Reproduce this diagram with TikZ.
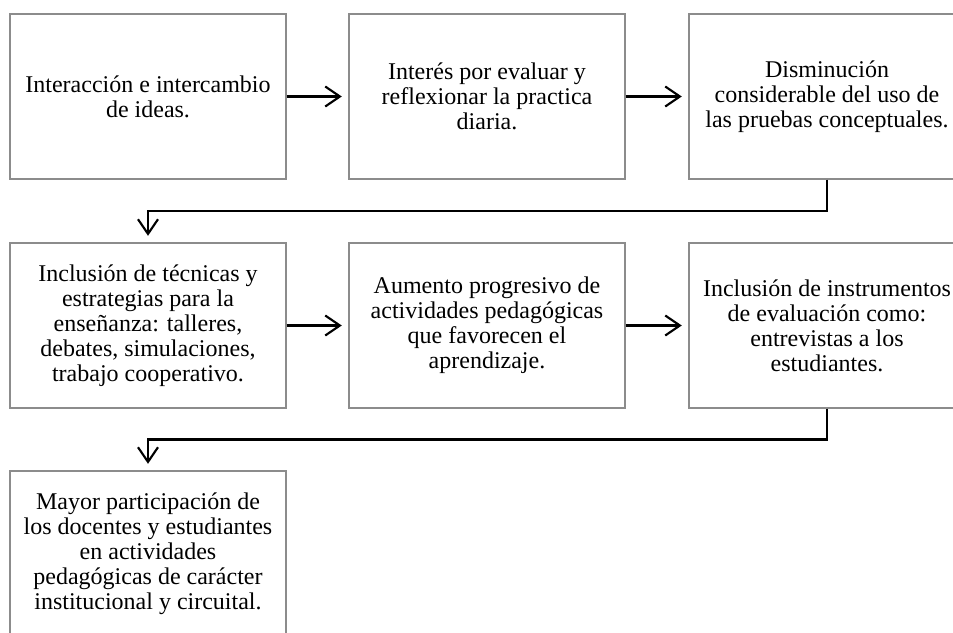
\documentclass[tikz,border=0pt]{standalone}
\usepackage{fontspec}
\setmainfont{Liberation Serif}
\usepackage{tikz}
\usetikzlibrary{arrows.meta}
\usetikzlibrary{calc}

\tikzset{
  caja/.style={draw=black!45, line width=0.8pt, minimum width=207pt, minimum height=123.75pt,
               align=center, font=\fontsize{18}{18.75}\selectfont, inner sep=0pt},
  flecha/.style={line width=1.8pt, -{Straight Barb[length=11pt,width=15pt,line width=1.6pt]}, shorten >=5pt}
}

\begin{document}
\begin{tikzpicture}[x=0.75pt,y=-0.75pt]
       \clip (0,0) rectangle (953,632);
       % primera fila
       \node[caja] (c1) at (148, 96.5) {Interacción e intercambio\\de ideas.};
       \node[caja] (c2) at (487, 96.5) {Interés por evaluar y\\reflexionar la practica\\diaria.};
       \node[caja] (c3) at (827, 96.5) {Disminución\\considerable del uso de\\las pruebas conceptuales.};

       % segunda fila
       \node[caja] (c4) at (148, 325.5) {Inclusión de técnicas y\\estrategias para la\\enseñanza: talleres,\\debates, simulaciones,\\trabajo cooperativo.};
       \node[caja] (c5) at (487, 325.5) {Aumento progresivo de\\actividades pedagógicas\\que favorecen el\\aprendizaje.};
       \node[caja] (c6) at (827, 325.5) {Inclusión de instrumentos\\de evaluación como:\\entrevistas a los\\estudiantes.};

       % tercera fila
       \node[caja] (c7) at (148, 553.5) {Mayor participación de\\los docentes y estudiantes\\en actividades\\pedagógicas de carácter\\institucional y circuital.};

       \coordinate (m1) at ($(c3.south)!0.5!(c4.north)$);
       \coordinate (m2) at ($(c6.south)!0.5!(c7.north)$);

       \draw[flecha] (c1) -- (c2);
       \draw[flecha] (c2) -- (c3);
       \draw[flecha] (c3.south) |- (m1) -| (c4.north);
       \draw[flecha] (c4) -- (c5);
       \draw[flecha] (c5) -- (c6);
       \draw[flecha] (c6.south) |- (m2) -| (c7.north);
\end{tikzpicture}
\end{document}
